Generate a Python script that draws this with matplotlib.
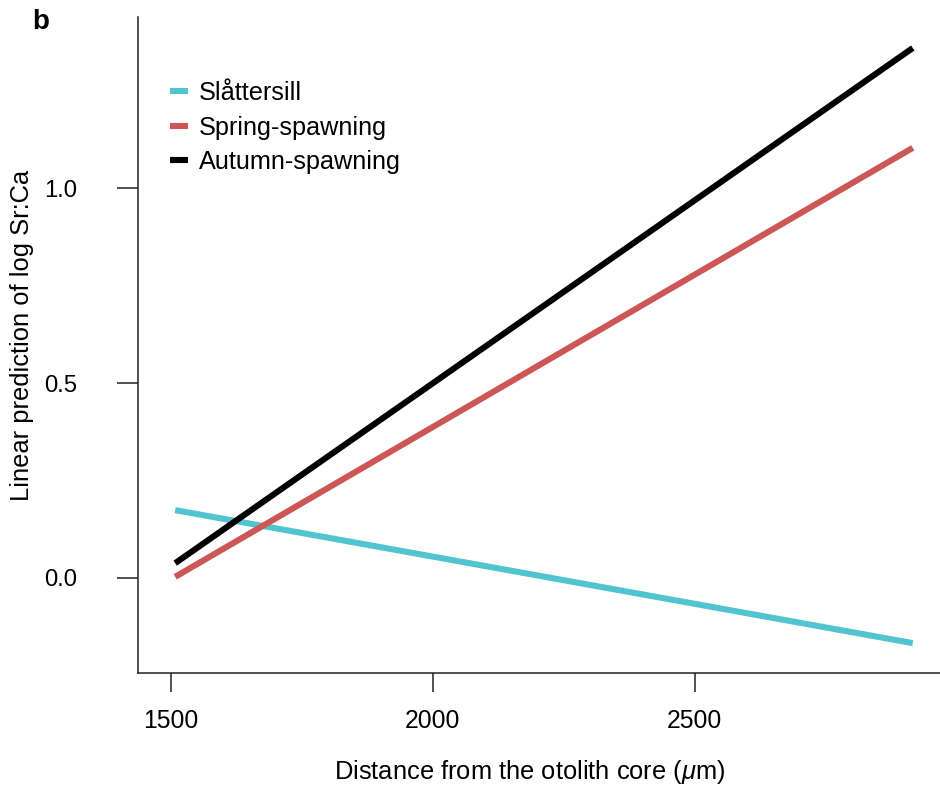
import matplotlib
matplotlib.use('Agg')
import matplotlib.pyplot as plt
from matplotlib.lines import Line2D

plt.rcParams['font.family'] = ['Liberation Sans', 'DejaVu Sans']
plt.rcParams['mathtext.fontset'] = 'custom'
plt.rcParams['mathtext.it'] = 'Liberation Sans:italic'
plt.rcParams['mathtext.rm'] = 'Liberation Sans'

# fitted lines (start / end of distance range)
dist = [1508, 2916]
slattersill = [0.174, -0.167]
spring = [0.003, 1.103]
autumn = [0.038, 1.359]

groups = ['Slåttersill', 'Spring-spawning', 'Autumn-spawning']
colors = ['#52C4D0', '#CD5757', '#000000']
xticks = [1500, 2000, 2500]
yticks = [0.0, 0.5, 1.0]

W, H = 940, 787
fig = plt.figure(figsize=(W/100, H/100), dpi=100)
ax = fig.add_axes([138/W, 1 - 673/H, (940-138)/W, (673-17)/H])

lw = 4.4
for yv, c in zip([slattersill, spring, autumn], colors):
    ax.plot(dist, yv, color=c, lw=lw, solid_capstyle='butt')

ax.set_xlim(1437, 2968)
ax.set_ylim(-0.2436, 1.4385)
ax.set_xticks(xticks)
ax.set_xticklabels([str(v) for v in xticks])
ax.set_yticks(yticks)
ax.set_yticklabels(['%.1f' % v for v in yticks])

for s in ['top', 'right']:
    ax.spines[s].set_visible(False)
for s in ['left', 'bottom']:
    ax.spines[s].set_linewidth(1.1)
    ax.spines[s].set_color('#222222')

ax.tick_params(axis='x', length=14, width=1.1, pad=12, labelsize=17.8, color='#222222')
ax.tick_params(axis='y', length=15, width=1.1, pad=29, labelsize=17.2, color='#222222')

fig.text(530/W, 1 - 772/H, r'Distance from the otolith core ($\mu$m)',
         ha='center', va='center', fontsize=18.4)
fig.text(22/W, 1 - 335/H, 'Linear prediction of log Sr:Ca', rotation=90,
         ha='center', va='center', fontsize=18.4)
fig.text(41/W, 1 - 22/H, 'b', ha='center', va='center', fontsize=20, fontweight='bold')

handles = [Line2D([], [], color=c, lw=lw, solid_capstyle='butt') for c in colors]
leg = ax.legend(handles, groups, loc='upper left', bbox_to_anchor=(170/W, 1 - 81/H),
                bbox_transform=fig.transFigure, frameon=False, fontsize=18.2,
                handlelength=0.72, handletextpad=0.42, labelspacing=0.42,
                borderpad=0, borderaxespad=0)

fig.savefig('out.png', dpi=100)
